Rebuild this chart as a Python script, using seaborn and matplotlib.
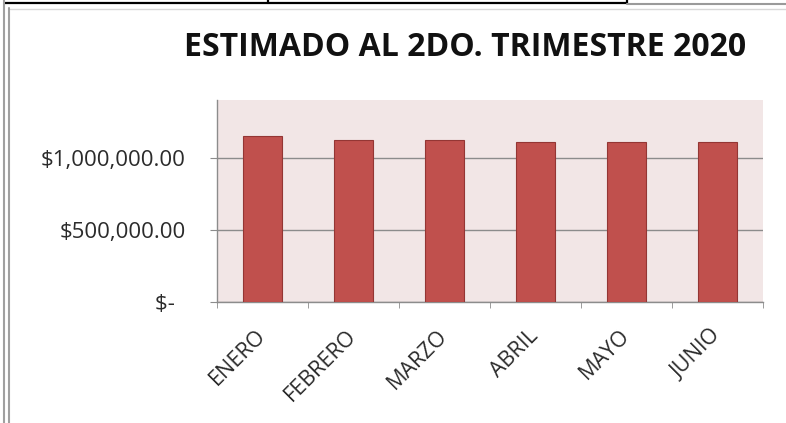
import numpy as np
import pandas as pd
import matplotlib
matplotlib.use('Agg')
import matplotlib.pyplot as plt
import seaborn as sns
from matplotlib.lines import Line2D

meses = ['ENERO', 'FEBRERO', 'MARZO', 'ABRIL', 'MAYO', 'JUNIO']
estimado = [1150000, 1120000, 1120000, 1110000, 1110000, 1110000]
y_ticks = [0, 500000, 1000000]
y_labels = ['$-  ', '$500,000.00', '$1,000,000.00']

sns.set_style('white')
plt.rcParams['font.family'] = ['Open Sans', 'DejaVu Sans']

W, H = 786, 423
PT = 0.72  # points per pixel at dpi 100
fig = plt.figure(figsize=(W / 100, H / 100), dpi=100)
ax = fig.add_axes([217 / W, 1 - 302 / H, (763 - 217) / W, (302 - 100) / H])

df = pd.DataFrame({'mes': meses, 'valor': estimado})
sns.barplot(data=df, x='mes', y='valor', ax=ax, color='#C0504D', saturation=1,
            width=0.42, edgecolor='#943634', linewidth=0.8, zorder=3)

ax.set_facecolor('#F2E6E6')
ax.set_ylim(0, 1400000)
ax.set_xlim(-0.5, len(meses) - 0.5)
ax.set_yticks(y_ticks)
ax.set_yticklabels(y_labels, fontsize=16, color='#2B2B2B')
ax.yaxis.grid(True, color='#8C8C8C', linewidth=1, zorder=1)
ax.set_axisbelow(True)

# labels at category centres, ticks at category boundaries
ax.set_xticks(np.arange(len(meses)))
ax.set_xticklabels(meses, rotation=45, ha='right', va='center', rotation_mode='anchor',
                   fontsize=15.5, color='#2B2B2B')
ax.set_xticks(np.arange(len(meses) + 1) - 0.5, minor=True)
ax.tick_params(axis='x', which='major', length=0, pad=31 * PT)
ax.tick_params(axis='x', which='minor', length=6 * PT, color='#8C8C8C', direction='out', bottom=True)
ax.tick_params(axis='y', length=7 * PT, color='#8C8C8C', direction='out', left=True, pad=24 * PT)

ax.set_xlabel('')
ax.set_ylabel('')
for s in ['top', 'right']:
    ax.spines[s].set_visible(False)
for s in ['left', 'bottom']:
    ax.spines[s].set_color('#8C8C8C')
    ax.spines[s].set_linewidth(1)

fig.text(465 / W, 1 - 48 / H, 'ESTIMADO AL 2DO. TRIMESTRE 2020', ha='center', va='center',
         fontsize=23, fontweight='bold', color='#111111')

# page borders around the chart
def px_line(x0, y0, x1, y1, color, lw):
    fig.add_artist(Line2D([x0 / W, x1 / W], [1 - y0 / H, 1 - y1 / H],
                          transform=fig.transFigure, color=color, linewidth=lw))

px_line(5, 3, 627, 3, 'black', 1.6)
px_line(268, 0, 268, 3, 'black', 1.6)
px_line(627, 0, 627, 3, 'black', 1.6)
px_line(627, 4.5, W, 4.5, '#9A9A9A', 1.5)
px_line(10, 9, W, 9, '#D8D8D8', 1)
px_line(3.5, 0, 3.5, H, '#A0A0A0', 1.5)
px_line(9, 8, 9, H, '#A0A0A0', 1.5)

plt.savefig('out.png', dpi=100)
plt.close()
